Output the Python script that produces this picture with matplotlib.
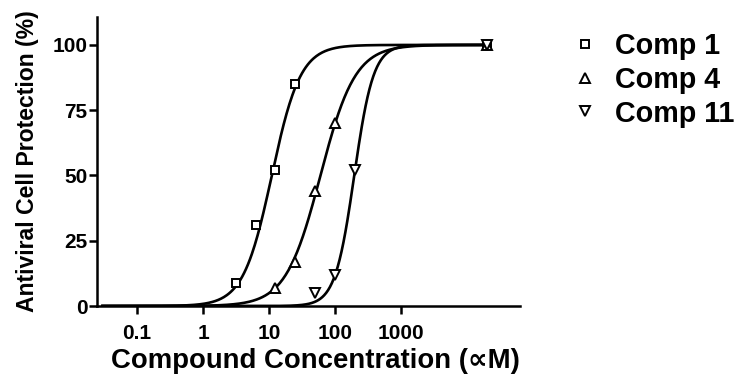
import numpy as np
import matplotlib.pyplot as plt

plt.rcParams.update({
    "font.family": ["Liberation Sans", "DejaVu Sans"],
    "font.weight": "bold",
    "axes.linewidth": 1.8,
})

# measured points (concentration, % protection)
comp1_x = [3.2, 6.25, 12.5, 25, 20000]
comp1_y = [9, 31, 52, 85, 100]
comp4_x = [12.5, 25, 50, 100, 20000]
comp4_y = [7, 17, 44, 70, 100]
comp11_x = [50, 100, 200, 20000]
comp11_y = [5, 12, 52, 100]

# fitted sigmoid parameters (EC50, Hill slope)
comp1_fit = (11.0, 2.0)
comp4_fit = (60.0, 1.65)
comp11_fit = (195.0, 3.0)

labels = ["Comp 1", "Comp 4", "Comp 11"]
markers = ["s", "^", "v"]

x_ticks = [0.1, 1, 10, 100, 1000]
x_ticklabels = ["0.1", "1", "10", "100", "1000"]
y_ticks = [0, 25, 50, 75, 100]


def hill(x, ec50, h):
    return 100.0 / (1.0 + (ec50 / x) ** h)


W, H = 738, 381
fig = plt.figure(figsize=(W / 100, H / 100), dpi=100)
ax = fig.add_axes([97 / W, 1 - 306 / H, 423 / W, 289 / H])

xs = np.logspace(np.log10(0.03), np.log10(20000), 400)
series = [(comp1_x, comp1_y, comp1_fit), (comp4_x, comp4_y, comp4_fit),
          (comp11_x, comp11_y, comp11_fit)]
for (px, py, fit), lab, mk in zip(series, labels, markers):
    ax.plot(xs, hill(xs, *fit), color="black", lw=1.9, zorder=2)
    ms = 5.5 if mk == "s" else 6.5
    ax.plot(px, py, linestyle="none", marker=mk, ms=ms, mfc="white",
            mec="black", mew=1.4, zorder=3, label=lab)

ax.set_xscale("log")
ax.set_xlim(10 ** -1.606, 10 ** 4.80)
ax.set_ylim(0, 110.7)
ax.set_xticks(x_ticks)
ax.set_xticklabels(x_ticklabels)
ax.minorticks_off()
ax.set_yticks(y_ticks)
ax.tick_params(axis="both", direction="out", length=6, width=1.8, labelsize=15)
ax.tick_params(axis="x", pad=7)
ax.tick_params(axis="y", pad=1)
for s in ["top", "right"]:
    ax.spines[s].set_visible(False)

# axis titles placed in figure pixels to match the reference
fig.text(315 / W, 1 - 361 / H, "Compound Concentration (\u221dM)", fontsize=19.8,
         fontweight="bold", ha="center", va="center")
fig.text(27.5 / W, 1 - 161.5 / H, "Antiviral Cell Protection (%)", fontsize=16.6,
         fontweight="bold", ha="center", va="center", rotation=90)

ax.legend(loc="upper left", bbox_to_anchor=(578 / W, 1 - 32 / H),
          bbox_transform=fig.transFigure, frameon=False, fontsize=20.7,
          handlelength=0.5, handletextpad=0.77, labelspacing=0.2,
          borderaxespad=0, borderpad=0)

fig.savefig("out.png", dpi=100)
